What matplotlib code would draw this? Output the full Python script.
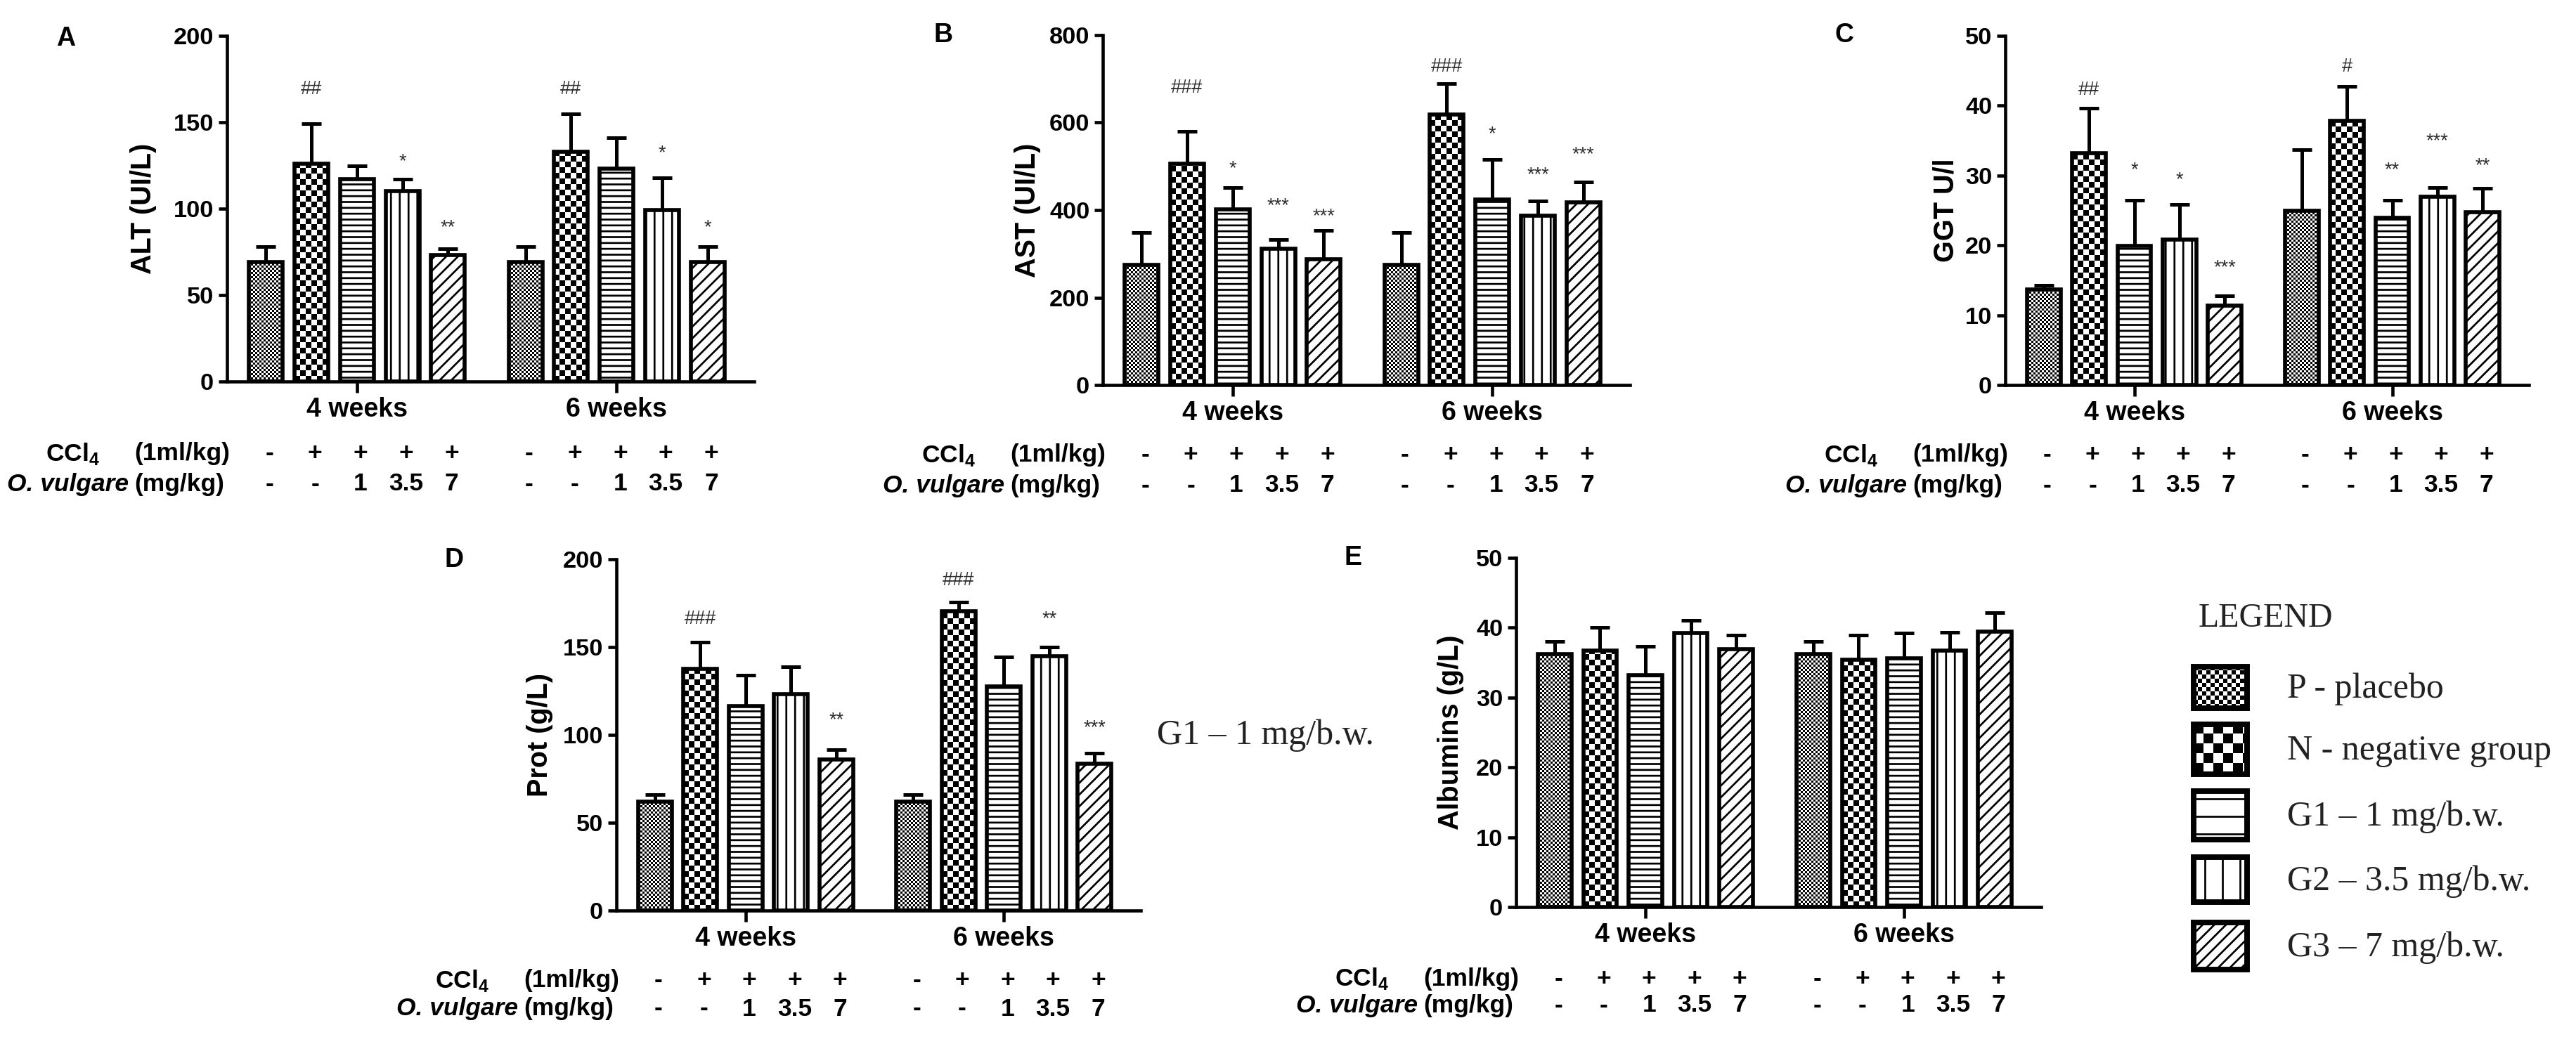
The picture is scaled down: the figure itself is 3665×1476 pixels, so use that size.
import numpy as np
import matplotlib.pyplot as plt
from matplotlib.patches import Rectangle

plt.rcParams["font.family"] = ["Liberation Sans", "DejaVu Sans"]
plt.rcParams["hatch.linewidth"] = 1.3

W, H, DPI = 3665, 1476, 150

# ------------------------------------------------------------------ data
groups = ["4 weeks", "6 weeks"]
ccl4_row = ["-", "+", "+", "+", "+"]
dose_row = ["-", "-", "1", "3.5", "7"]
treatments = ["P - placebo", "N - negative group", "G1 \u2013 1 mg/b.w.",
              "G2 \u2013 3.5 mg/b.w.", "G3 \u2013 7 mg/b.w."]

alt_mean = [69, 126, 117, 110, 73, 69, 133, 123, 99, 69]
alt_sd = [9, 23, 8, 7, 4, 9, 22, 18, 19, 9]
alt_sig = ["", "##", "", "*", "**", "", "##", "", "*", "*"]
alt_sig_y = [0, 169, 0, 127, 89, 0, 169, 0, 132, 89]

ast_mean = [274, 506, 402, 311, 287, 274, 619, 424, 387, 417]
ast_sd = [74, 74, 50, 22, 66, 74, 70, 91, 34, 48]
ast_sig = ["", "###", "*", "***", "***", "", "###", "*", "***", "***"]
ast_sig_y = [0, 679, 495, 410, 385, 0, 728, 573, 480, 526]

ggt_mean = [13.7, 33.2, 19.9, 20.8, 11.4, 25.0, 37.8, 23.9, 27.0, 24.7]
ggt_sd = [0.6, 6.4, 6.6, 5.1, 1.4, 8.7, 5.0, 2.6, 1.3, 3.5]
ggt_sig = ["", "##", "*", "*", "***", "", "#", "**", "***", "**"]
ggt_sig_y = [0, 42.3, 30.8, 29.4, 16.8, 0, 45.6, 30.8, 34.9, 31.4]

prot_mean = [61.9, 137.7, 116.6, 123.2, 86.0, 61.9, 170.4, 127.5, 145.0, 83.6]
prot_sd = [4.1, 15.3, 17.4, 15.8, 5.5, 4.1, 5.1, 17.0, 5.0, 6.0]
prot_sig = ["", "###", "", "", "**", "", "###", "", "**", "***"]
prot_sig_y = [0, 166, 0, 0, 108.5, 0, 188, 0, 166, 103.8]

alb_mean = [36.2, 36.7, 33.2, 39.2, 36.9, 36.2, 35.4, 35.6, 36.7, 39.4]
alb_sd = [1.8, 3.3, 4.1, 1.8, 2.0, 1.8, 3.5, 3.6, 2.6, 2.8]
alb_sig = [""] * 10
alb_sig_y = [0] * 10

# bar slots: five treatments per time point
xpos = np.r_[np.arange(5), np.arange(5) + 5.7]
group_x = [2, 7.7]


def checker_fill(ax, patch, cell):
    # checkerboard texture (cell in pixels) clipped to a patch
    x0, y0 = patch.get_x(), patch.get_y()
    w, h = patch.get_width(), patch.get_height()
    (px0, py0), (px1, py1) = ax.transData.transform([(x0, y0), (x0 + w, y0 + h)])
    wpx, hpx = abs(px1 - px0), abs(py1 - py0)
    nx, ny = int(np.ceil(wpx / cell)), int(np.ceil(hpx / cell))
    tile = np.indices((ny, nx)).sum(axis=0) % 2
    ext = (x0, x0 + w * nx * cell / wpx, y0, y0 + h * ny * cell / hpx)
    im = ax.imshow(tile, cmap="gray", vmin=0, vmax=1, extent=ext, origin="lower",
                   interpolation="nearest", aspect="auto", zorder=patch.get_zorder() - 0.1)
    im.set_clip_path(patch)


def panel(fig, rect_px, mean, sd, sig, sig_y, ymax, ystep, ylabel, ylab_off, rows_off):
    left, top, right, bottom = rect_px
    ax = fig.add_axes([left / W, 1 - bottom / H, (right - left) / W, (bottom - top) / H])
    xlim = (-0.85, 10.72)
    ax.set_xlim(*xlim)
    ax.set_ylim(0, ymax)

    hatches = [None, None, "---", "||", "///"]
    for i in range(len(mean)):
        k = i % 5
        b = ax.bar(xpos[i], mean[i], width=0.74, facecolor="none" if k < 2 else "white",
                   edgecolor="black", linewidth=2.7, hatch=hatches[k], zorder=3)[0]
        if k == 0:
            checker_fill(ax, b, 3)
        elif k == 1:
            checker_fill(ax, b, 8)
    ax.errorbar(xpos, mean, yerr=[np.zeros(len(sd)), sd], fmt="none", ecolor="black",
                elinewidth=2.4, capsize=6.5, capthick=2.4, zorder=2)

    for i, s in enumerate(sig):
        if s:
            ax.text(xpos[i], sig_y[i], s, ha="center", va="center", fontsize=13, color="#2e2e2e")

    ax.set_xlim(*xlim)
    ax.set_ylim(0, ymax)
    for sp in ["top", "right"]:
        ax.spines[sp].set_visible(False)
    for sp in ["left", "bottom"]:
        ax.spines[sp].set_linewidth(2.2)
    ax.set_yticks(np.arange(0, ymax + 1, ystep))
    ax.set_xticks(group_x, groups)
    ax.tick_params(axis="y", length=6, width=2.2, pad=3, labelsize=16.5)
    ax.tick_params(axis="x", length=7.5, width=2.2, pad=3, labelsize=18)
    for lab in ax.get_xticklabels() + ax.get_yticklabels():
        lab.set_fontweight("bold")
    ax.set_ylabel(ylabel, fontsize=19, fontweight="bold")
    ax.yaxis.set_label_coords(ylab_off / (right - left), 0.5)

    # treatment table under the axis
    r1, r2 = rows_off
    for i in range(len(xpos)):
        ax.annotate(ccl4_row[i % 5], xy=(xpos[i] + 0.08, 0), xycoords=("data", "axes fraction"),
                    xytext=(0, -r1), textcoords="offset pixels", ha="center", va="center",
                    fontsize=17, fontweight="bold")
        ax.annotate(dose_row[i % 5], xy=(xpos[i] + 0.08, 0), xycoords=("data", "axes fraction"),
                    xytext=(0, -r2), textcoords="offset pixels", ha="center", va="center",
                    fontsize=17, fontweight="bold")
    ax.annotate("CCl$_\\mathregular{4}$", xy=(0, 0), xycoords="axes fraction", xytext=(-258, -r1),
                textcoords="offset pixels", ha="left", va="center", fontsize=17, fontweight="bold")
    ax.annotate("(1ml/kg)", xy=(0, 0), xycoords="axes fraction", xytext=(4, -r1),
                textcoords="offset pixels", ha="right", va="center", fontsize=17, fontweight="bold")
    mg = ax.annotate("(mg/kg)", xy=(0, 0), xycoords="axes fraction", xytext=(-4, -r2),
                     textcoords="offset pixels", ha="right", va="center", fontsize=17, fontweight="bold")
    ax.annotate("O. vulgare", xy=(0, 0), xycoords=mg, xytext=(-8, 0), textcoords="offset pixels",
                ha="right", va="bottom", fontsize=17, fontweight="bold", style="italic")
    return ax


fig = plt.figure(figsize=(W / DPI, H / DPI), dpi=DPI)

panel(fig, (323, 51, 1073, 543), alt_mean, alt_sd, alt_sig, alt_sig_y, 200, 50, "ALT (UI/L)", -100, (103, 146))
panel(fig, (1569, 50, 2319, 548), ast_mean, ast_sd, ast_sig, ast_sig_y, 800, 200, "AST (UI/L)", -88, (100, 143))
panel(fig, (2853, 51, 3598, 548), ggt_mean, ggt_sd, ggt_sig, ggt_sig_y, 50, 10, "GGT U/l", -65, (100, 143))
panel(fig, (877, 796, 1623, 1296), prot_mean, prot_sd, prot_sig, prot_sig_y, 200, 50, "Prot (g/L)", -90, (100, 140))
panel(fig, (2157, 794, 2904, 1291), alb_mean, alb_sd, alb_sig, alb_sig_y, 50, 10, "Albumins (g/L)", -74, (102, 140))

# overlay in pixel coordinates for letters and the legend
lax = fig.add_axes([0, 0, 1, 1])
lax.set_xlim(0, W)
lax.set_ylim(H, 0)
lax.axis("off")

for letter, (lx, ly) in zip("ABCDE", [(94, 55), (1342, 50), (2624, 50), (646, 797), (1925, 794)]):
    lax.text(lx, ly, letter, ha="center", va="center", fontsize=18, fontweight="bold")

serif = ["Liberation Serif", "DejaVu Serif"]
lax.text(1646, 1047, treatments[2], ha="left", va="center", fontsize=24, family=serif, color="#222222")
lax.text(3128, 880, "LEGEND", ha="left", va="center", fontsize=23, family=serif, color="#222222")

leg_y = [978, 1066, 1160, 1252, 1346]
leg_h = [59, 71, 69, 64, 67]
leg_hatch = [None, None, "-", "|", "///"]
for k, name in enumerate(treatments):
    r = Rectangle((3121, leg_y[k] - leg_h[k] / 2), 76, leg_h[k], facecolor="none" if k < 2 else "white",
                  edgecolor="black", linewidth=3.8, hatch=leg_hatch[k], zorder=3)
    lax.add_patch(r)
    if k == 0:
        checker_fill(lax, r, 6)
    elif k == 1:
        checker_fill(lax, r, 14)
    lax.text(3254, leg_y[k] + 3, name, ha="left", va="center", fontsize=24, family=serif, color="#222222")
lax.set_xlim(0, W)
lax.set_ylim(H, 0)

fig.savefig("out.png", dpi=DPI)
